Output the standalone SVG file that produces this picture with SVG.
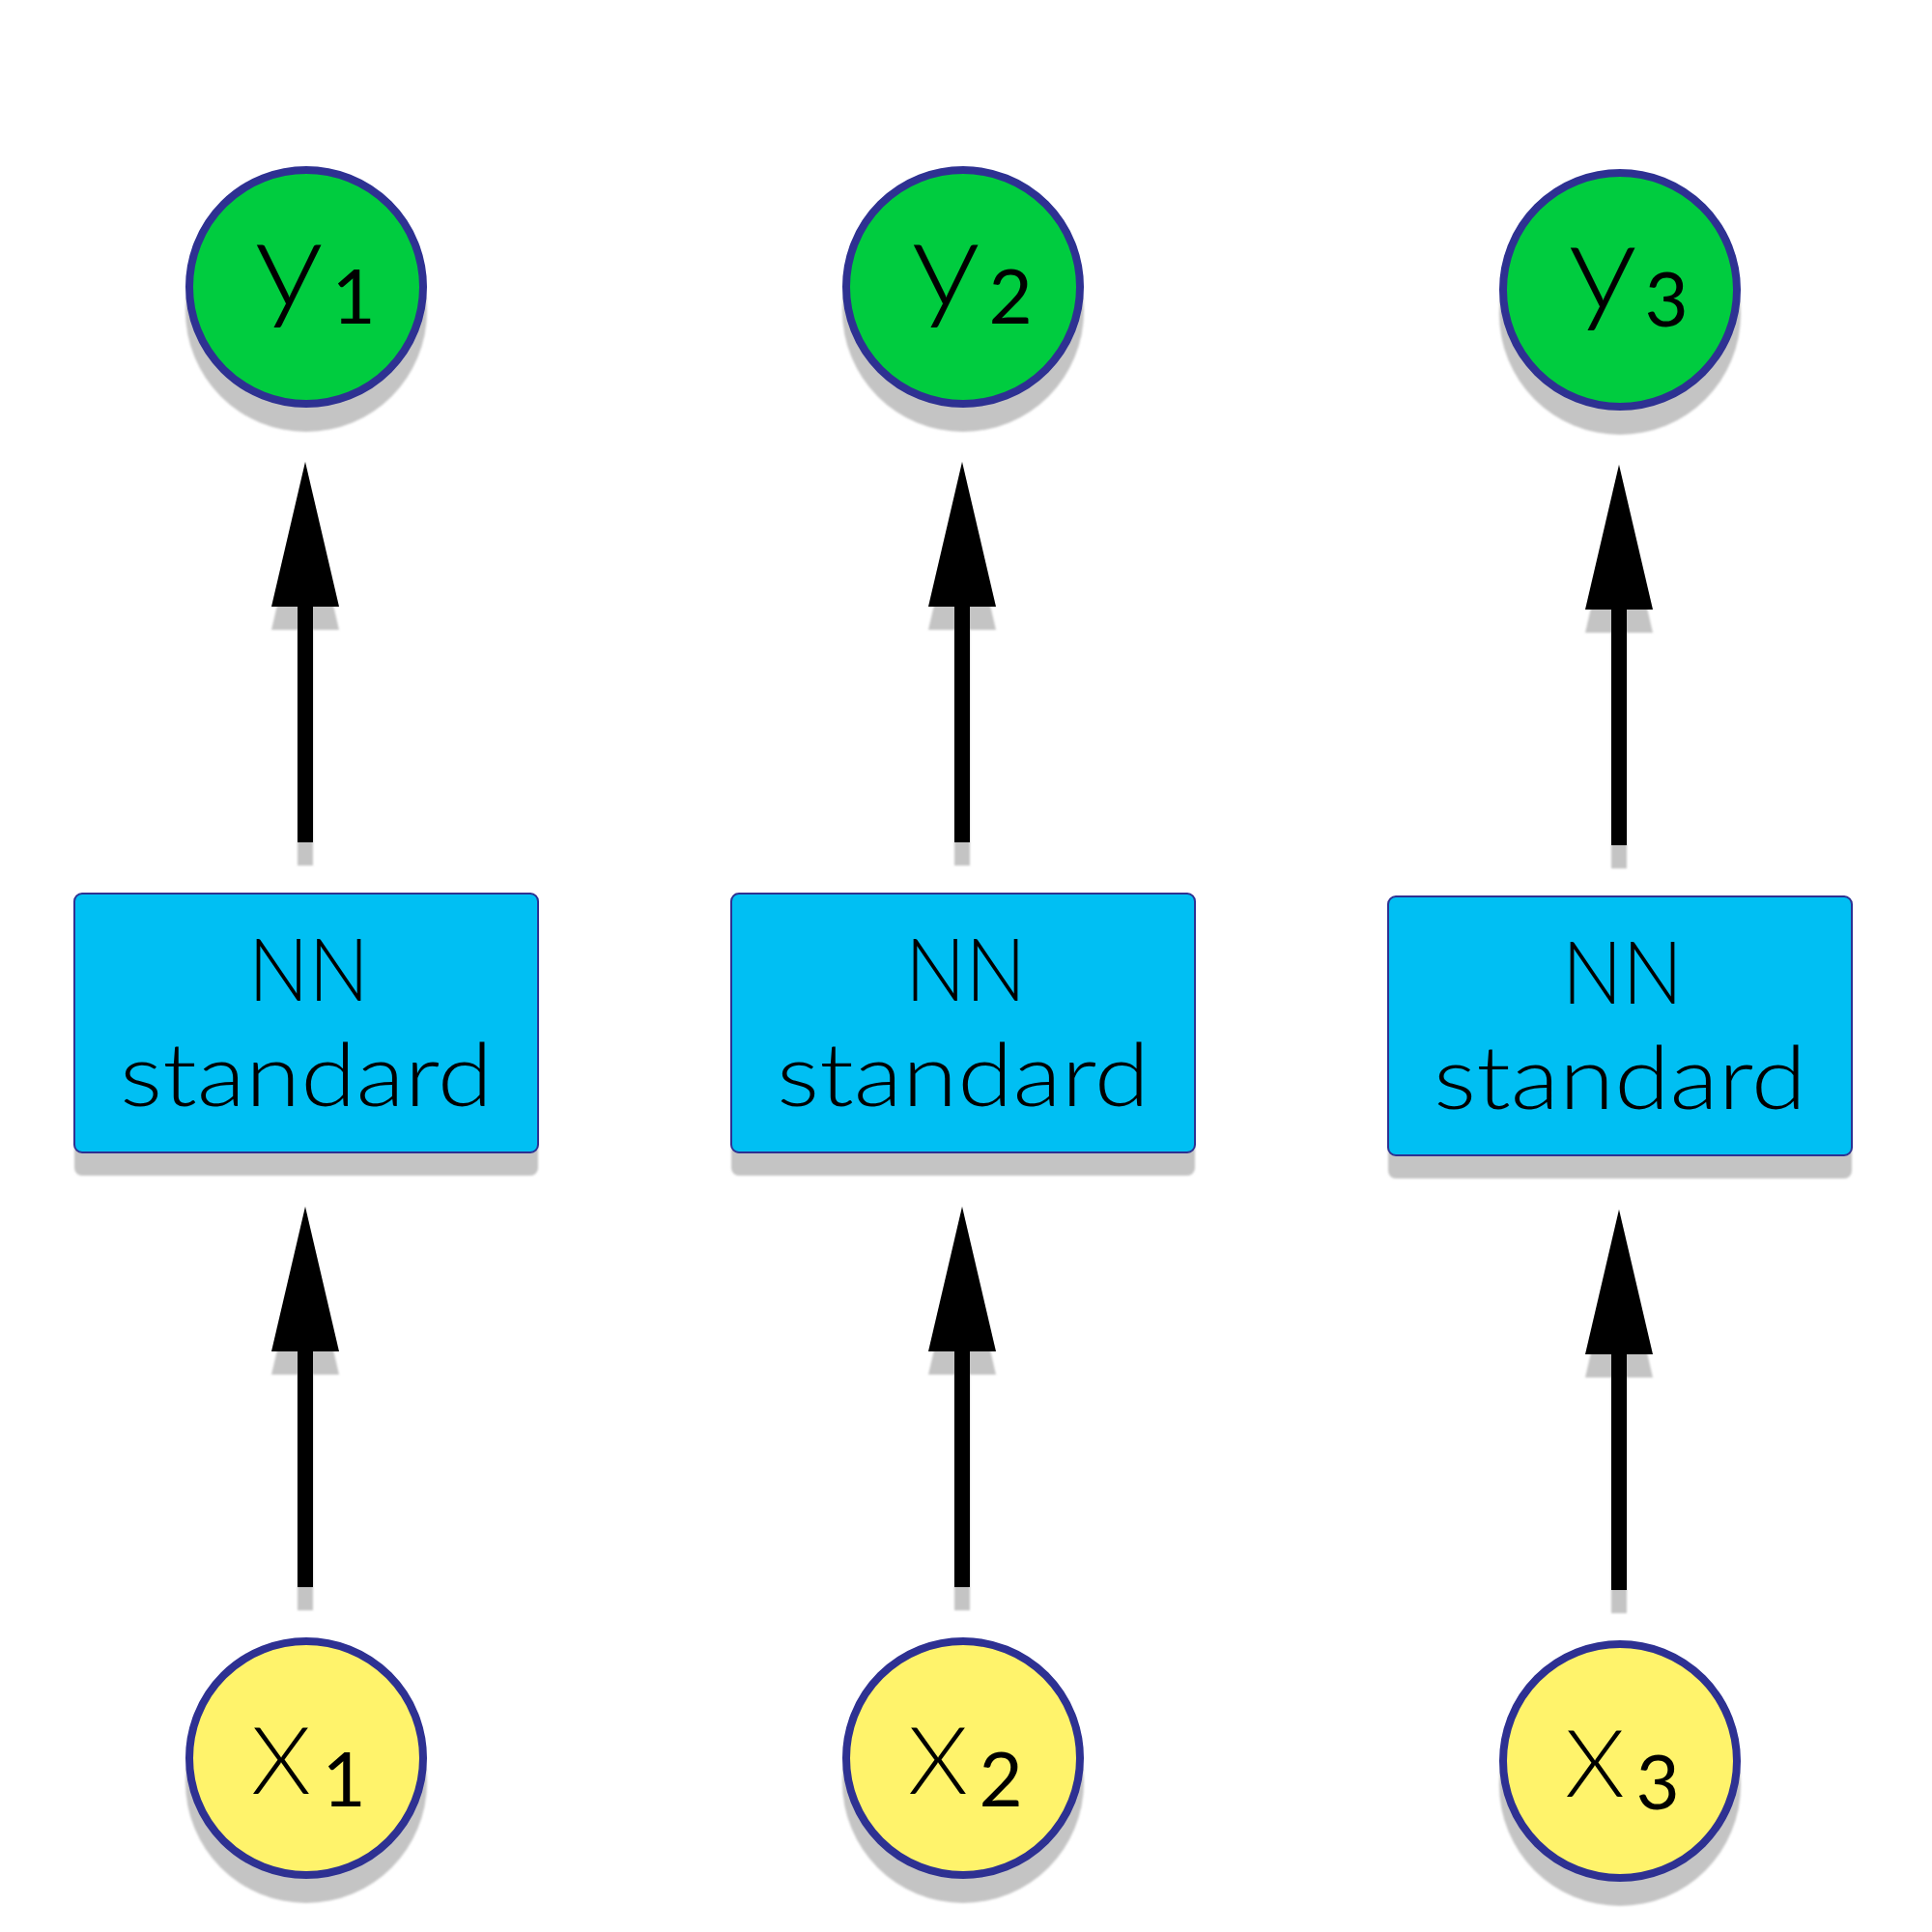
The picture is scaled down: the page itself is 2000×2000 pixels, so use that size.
<svg xmlns="http://www.w3.org/2000/svg" width="2000" height="2000" viewBox="0 0 2000 2000">
<defs>
<filter id="blur" x="-10%" y="-10%" width="120%" height="120%"><feGaussianBlur stdDeviation="1.2"/></filter>
<g id="arrow">
<rect class="shadow" x="308" y="174" width="16" height="244"/>
<polygon class="shadow" points="316,24 351,174 281,174"/>
<rect x="308" y="148" width="16" height="246" fill="#000"/>
<polygon points="316,0 351,150 281,150" fill="#000"/>
</g>
</defs>
<style>
.shadow{fill:#c4c4c4;filter:url(#blur)}
.out{fill:#00cc3f;stroke:#2e3192;stroke-width:8}
.inp{fill:#fff36b;stroke:#2e3192;stroke-width:8}
.box{fill:#00bff3;stroke:#2e3192;stroke-width:2}
.lbl{font-family:Lato,"Open Sans","Liberation Sans",sans-serif;font-weight:300;fill:#000}
.sub{font-family:Lato,"Open Sans","Liberation Sans",sans-serif;font-weight:400;fill:#000;font-size:78px;text-anchor:middle}
</style>
<rect width="2000" height="2000" fill="#fff"/>

<g id="connectors">
  <use id="c-x1-nn1" href="#arrow" transform="translate(0,1249)"/>
  <use id="c-nn1-y1" href="#arrow" transform="translate(0,478)"/>
  <use id="c-x2-nn2" href="#arrow" transform="translate(680,1249)"/>
  <use id="c-nn2-y2" href="#arrow" transform="translate(680,478)"/>
  <use id="c-x3-nn3" href="#arrow" transform="translate(1360,1252)"/>
  <use id="c-nn3-y3" href="#arrow" transform="translate(1360,481)"/>
</g>

<g id="y1">
  <circle class="shadow" cx="317" cy="322" r="125"/>
  <circle class="out" cx="317" cy="297" r="121"/>
  <text class="lbl" x="263" y="317" font-size="126" textLength="72" lengthAdjust="spacingAndGlyphs">y</text>
  <text class="sub" x="366" y="335">1</text>
</g>
<g id="y2">
  <circle class="shadow" cx="997" cy="322" r="125"/>
  <circle class="out" cx="997" cy="297" r="121"/>
  <text class="lbl" x="943" y="317" font-size="126" textLength="72" lengthAdjust="spacingAndGlyphs">y</text>
  <text class="sub" x="1046" y="335">2</text>
</g>
<g id="y3">
  <circle class="shadow" cx="1677" cy="325" r="125"/>
  <circle class="out" cx="1677" cy="300" r="121"/>
  <text class="lbl" x="1623" y="320" font-size="126" textLength="72" lengthAdjust="spacingAndGlyphs">y</text>
  <text class="sub" x="1725" y="338">3</text>
</g>

<g id="nn1">
  <rect class="shadow" x="77" y="949" width="480" height="268" rx="8"/>
  <rect class="box" x="77" y="925" width="480" height="268" rx="8"/>
  <text class="lbl" x="319.5" y="1036" font-size="90" text-anchor="middle" textLength="125" lengthAdjust="spacingAndGlyphs">NN</text>
  <text class="lbl" x="317" y="1145" font-size="90" text-anchor="middle" textLength="386" lengthAdjust="spacingAndGlyphs">standard</text>
</g>
<g id="nn2">
  <rect class="shadow" x="757" y="949" width="480" height="268" rx="8"/>
  <rect class="box" x="757" y="925" width="480" height="268" rx="8"/>
  <text class="lbl" x="999.5" y="1036" font-size="90" text-anchor="middle" textLength="125" lengthAdjust="spacingAndGlyphs">NN</text>
  <text class="lbl" x="997" y="1145" font-size="90" text-anchor="middle" textLength="386" lengthAdjust="spacingAndGlyphs">standard</text>
</g>
<g id="nn3">
  <rect class="shadow" x="1437" y="952" width="480" height="268" rx="8"/>
  <rect class="box" x="1437" y="928" width="480" height="268" rx="8"/>
  <text class="lbl" x="1679.5" y="1039" font-size="90" text-anchor="middle" textLength="125" lengthAdjust="spacingAndGlyphs">NN</text>
  <text class="lbl" x="1677" y="1148" font-size="90" text-anchor="middle" textLength="386" lengthAdjust="spacingAndGlyphs">standard</text>
</g>

<g id="x1">
  <circle class="shadow" cx="317" cy="1845" r="125"/>
  <circle class="inp" cx="317" cy="1820" r="121"/>
  <text class="lbl" x="260" y="1857" font-size="97" textLength="62" lengthAdjust="spacingAndGlyphs">X</text>
  <text class="sub" x="356" y="1870">1</text>
</g>
<g id="x2">
  <circle class="shadow" cx="997" cy="1845" r="125"/>
  <circle class="inp" cx="997" cy="1820" r="121"/>
  <text class="lbl" x="940" y="1857" font-size="97" textLength="62" lengthAdjust="spacingAndGlyphs">X</text>
  <text class="sub" x="1036" y="1870">2</text>
</g>
<g id="x3">
  <circle class="shadow" cx="1677" cy="1848" r="125"/>
  <circle class="inp" cx="1677" cy="1823" r="121"/>
  <text class="lbl" x="1620" y="1860" font-size="97" textLength="62" lengthAdjust="spacingAndGlyphs">X</text>
  <text class="sub" x="1716" y="1873">3</text>
</g>
</svg>
